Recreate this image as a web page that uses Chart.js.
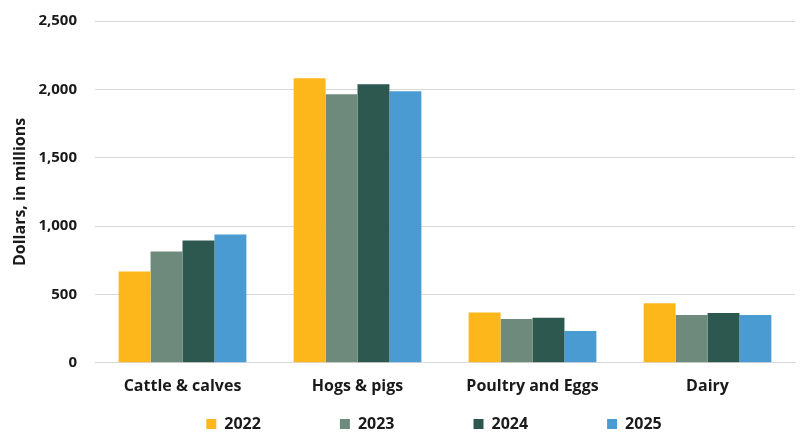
<!DOCTYPE html>
<html>
<head>
<meta charset="utf-8">
<script src="https://cdn.jsdelivr.net/npm/chart.js@4.4.1/dist/chart.umd.min.js"></script>
<style>
  html, body { margin: 0; padding: 0; background: #ffffff; }
  #wrap { width: 800px; height: 432px; }
</style>
</head>
<body>
<div id="wrap"><canvas id="chart" width="800" height="432"></canvas></div>
<script>
// Livestock cash receipts by category, dollars in millions
const categories = ['Cattle & calves', 'Hogs & pigs', 'Poultry and Eggs', 'Dairy'];
const years = ['2022', '2023', '2024', '2025'];
const values2022 = [667, 2082, 367, 435];
const values2023 = [814, 1965, 320, 349];
const values2024 = [894, 2038, 330, 364];
const values2025 = [938, 1987, 232, 349];
const yTicks = [0, 500, 1000, 1500, 2000, 2500];

const colors = ['#FDB71A', '#6E8A7C', '#2D5850', '#4B9BD3'];
const seriesValues = [values2022, values2023, values2024, values2025];

const FONT = '"Open Sans", "DejaVu Sans", sans-serif';
const TEXT = '#1a1a1a';
const PLOT_TOP = 21;        // top edge of the plotting area
const LEGEND_GAP = 79;      // horizontal spacing between legend entries
const LEGEND_ROW_Y = 416;   // top of the legend row
const LEGEND_DX = 32;       // legend centred under the plot instead of the canvas

// Chart.js uses the label padding both horizontally and vertically; keep the
// wide horizontal spacing but place the single legend row where it belongs.
// Also pins the top of the plotting area.
const layoutTweaks = {
  id: 'layoutTweaks',
  afterLayout(chart) {
    const lg = chart.legend;
    if (lg) {
      const dy = (LEGEND_ROW_Y - LEGEND_GAP) - lg.top;
      lg.top += dy;
      lg.bottom = chart.height;
      lg.height = lg.bottom - lg.top;
      lg.left += LEGEND_DX; lg.right += LEGEND_DX;
      (lg.legendHitBoxes || []).forEach(b => { b.left += LEGEND_DX; b.top += dy; });
    }
    const y = chart.scales.y;
    if (y && y.top !== PLOT_TOP) {
      y.top = PLOT_TOP;
      y.height = y.bottom - PLOT_TOP;
      y.configure();
      y._labelItems = null;
      y._gridLineItems = null;
      chart.chartArea.top = PLOT_TOP;
      chart.chartArea.height = chart.chartArea.bottom - PLOT_TOP;
    }
  }
};

new Chart(document.getElementById('chart'), {
  type: 'bar',
  data: {
    labels: categories,
    datasets: years.map((y, i) => ({
      label: y,
      data: seriesValues[i],
      backgroundColor: colors[i],
      borderWidth: 0,
      categoryPercentage: 0.73,
      barPercentage: 1.0
    }))
  },
  options: {
    responsive: false,
    animation: false,
    devicePixelRatio: 1,
    layout: { autoPadding: false, padding: { top: 15, right: 5, left: 9, bottom: 0 } },
    plugins: {
      legend: {
        position: 'bottom',
        maxHeight: 30,
        labels: {
          boxWidth: 10,
          boxHeight: 10,
          padding: LEGEND_GAP,
          color: TEXT,
          font: { family: FONT, size: 16, weight: 'bold' }
        }
      },
      tooltip: { enabled: false }
    },
    scales: {
      x: {
        grid: { display: false },
        border: { display: true, color: '#d9d9d9', width: 1 },
        ticks: {
          color: TEXT,
          padding: 6,
          font: { family: FONT, size: 16, weight: 'bold' }
        }
      },
      y: {
        min: 0,
        max: yTicks[yTicks.length - 1],
        afterBuildTicks(axis) { axis.ticks = yTicks.map(v => ({ value: v })); },
        afterFit(axis) { axis.width = 86; },
        grid: { color: '#d9d9d9', lineWidth: 1, drawTicks: false },
        border: { display: false },
        title: {
          display: true,
          text: 'Dollars, in millions',
          color: TEXT,
          padding: { top: 2, bottom: 6 },
          font: { family: FONT, size: 16, weight: 'bold' }
        },
        ticks: {
          color: TEXT,
          padding: 18,
          font: { family: FONT, size: 15, weight: 'bold' },
          callback: v => v.toLocaleString('en-US')
        }
      }
    }
  },
  plugins: [layoutTweaks]
});
</script>
</body>
</html>
